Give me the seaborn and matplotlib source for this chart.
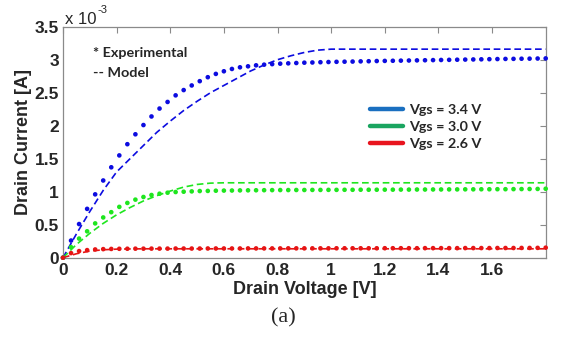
import matplotlib
matplotlib.use("Agg")
import matplotlib.pyplot as plt
from matplotlib.lines import Line2D
import numpy as np
import pandas as pd
import seaborn as sns

# ---------------- data (current in units of 1e-3 A) ----------------
v_exp = [0.00, 0.03, 0.06, 0.09, 0.12, 0.15, 0.18, 0.21, 0.24, 0.27,
         0.30, 0.33, 0.36, 0.39, 0.42, 0.45, 0.48, 0.51, 0.54, 0.57,
         0.60, 0.63, 0.66, 0.69, 0.72, 0.75, 0.78, 0.81, 0.84, 0.87,
         0.90, 0.93, 0.96, 0.99, 1.02, 1.05, 1.08, 1.11, 1.14, 1.17,
         1.20, 1.23, 1.26, 1.29, 1.32, 1.35, 1.38, 1.41, 1.44, 1.47,
         1.50, 1.53, 1.56, 1.59, 1.62, 1.65, 1.68, 1.71, 1.74, 1.77, 1.80]

exp_34 = [0.00, 0.26, 0.51, 0.74, 0.96, 1.17, 1.37, 1.55, 1.72, 1.87,
          2.01, 2.14, 2.26, 2.36, 2.46, 2.54, 2.61, 2.675, 2.735, 2.785,
          2.825, 2.86, 2.885, 2.90, 2.915, 2.925, 2.933, 2.94, 2.945, 2.95,
          2.955, 2.958, 2.962, 2.965, 2.968, 2.970, 2.972, 2.975, 2.977, 2.980,
          2.982, 2.984, 2.986, 2.988, 2.990, 2.992, 2.994, 2.996, 2.998, 3.000,
          3.002, 3.004, 3.006, 3.008, 3.010, 3.012, 3.013, 3.015, 3.016, 3.018, 3.020]

exp_30 = [0.00, 0.16, 0.29, 0.40, 0.52, 0.61, 0.69, 0.77, 0.83, 0.88,
          0.92, 0.95, 0.97, 0.985, 0.995, 1.00, 1.005, 1.01, 1.012, 1.015,
          1.017, 1.018, 1.02, 1.021, 1.022, 1.023, 1.024, 1.025, 1.025, 1.026,
          1.026, 1.027, 1.027, 1.028, 1.028, 1.029, 1.029, 1.030, 1.030, 1.030,
          1.031, 1.031, 1.032, 1.032, 1.033, 1.033, 1.034, 1.034, 1.035, 1.035,
          1.036, 1.036, 1.037, 1.037, 1.038, 1.038, 1.039, 1.040, 1.041, 1.042, 1.045]

exp_26 = [0.00, 0.07, 0.10, 0.115, 0.125, 0.13, 0.133, 0.135, 0.136, 0.137,
          0.137, 0.138, 0.138, 0.138, 0.139, 0.139, 0.139, 0.139, 0.140, 0.140,
          0.140, 0.140, 0.140, 0.141, 0.141, 0.141, 0.141, 0.141, 0.142, 0.142,
          0.142, 0.142, 0.142, 0.142, 0.143, 0.143, 0.143, 0.143, 0.143, 0.143,
          0.144, 0.144, 0.144, 0.144, 0.144, 0.145, 0.145, 0.145, 0.145, 0.145,
          0.146, 0.146, 0.146, 0.146, 0.147, 0.147, 0.147, 0.148, 0.148, 0.149, 0.152]

v_mod = [0.00, 0.05, 0.10, 0.15, 0.20, 0.25, 0.30, 0.35, 0.40, 0.45,
         0.50, 0.55, 0.60, 0.65, 0.70, 0.75, 0.80, 0.85, 0.90, 0.95,
         1.00, 1.80]
mod_34 = [0.00, 0.36, 0.70, 1.02, 1.30, 1.50, 1.70, 1.90, 2.07, 2.23,
          2.37, 2.50, 2.61, 2.72, 2.83, 2.92, 3.00, 3.06, 3.11, 3.145,
          3.16, 3.16]
mod_30 = [0.00, 0.20, 0.37, 0.52, 0.65, 0.76, 0.86, 0.94, 1.01, 1.07,
          1.11, 1.13, 1.135, 1.135, 1.135, 1.135, 1.135, 1.135, 1.135, 1.135,
          1.135, 1.135]
mod_26 = [0.00, 0.06, 0.10, 0.12, 0.13, 0.133, 0.135, 0.135, 0.135, 0.135,
          0.135, 0.135, 0.135, 0.135, 0.135, 0.135, 0.135, 0.135, 0.135, 0.135,
          0.135, 0.135]

series = ["Vgs = 3.4 V", "Vgs = 3.0 V", "Vgs = 2.6 V"]
x_ticks = [0, 0.2, 0.4, 0.6, 0.8, 1.0, 1.2, 1.4, 1.6]
x_ticklabels = ["0", "0.2", "0.4", "0.6", "0.8", "1", "1.2", "1.4", "1.6"]
y_ticks = [0, 0.5, 1.0, 1.5, 2.0, 2.5, 3.0, 3.5]
y_ticklabels = ["0", "0.5", "1", "1.5", "2", "2.5", "3", "3.5"]

# ---------------- styles ----------------
data_colors = {"Vgs = 3.4 V": "#0c0ce0", "Vgs = 3.0 V": "#1ee61e", "Vgs = 2.6 V": "#e61414"}
legend_colors = ["#1a6fc0", "#1aa560", "#e8141e"]

exp_df = pd.concat([
    pd.DataFrame({"V": v_exp, "I": exp_34, "Vgs": series[0]}),
    pd.DataFrame({"V": v_exp, "I": exp_30, "Vgs": series[1]}),
    pd.DataFrame({"V": v_exp, "I": exp_26, "Vgs": series[2]}),
], ignore_index=True)
mod_df = pd.concat([
    pd.DataFrame({"V": v_mod, "I": mod_34, "Vgs": series[0]}),
    pd.DataFrame({"V": v_mod, "I": mod_30, "Vgs": series[1]}),
    pd.DataFrame({"V": v_mod, "I": mod_26, "Vgs": series[2]}),
], ignore_index=True)

sns.set_theme(style="white")
plt.rcParams["font.family"] = ["Liberation Sans", "DejaVu Sans"]

fig = plt.figure(figsize=(5.66, 3.39), dpi=100)
ax = fig.add_axes([0.1113, 0.2398, 0.8528, 0.6814])

for name in series:
    sub = mod_df[mod_df["Vgs"] == name]
    sns.lineplot(data=sub, x="V", y="I", ax=ax, color=data_colors[name],
                 linewidth=1.2, linestyle="--", legend=False, zorder=2)
for line in ax.get_lines():
    line.set_dashes((4, 2.2))

sns.scatterplot(data=exp_df, x="V", y="I", hue="Vgs", palette=data_colors,
                s=11, linewidth=0, legend=False, ax=ax, zorder=3, clip_on=False)

ax.set_xlim(0, 1.8)
ax.set_ylim(0, 3.5)
ax.set_xticks(x_ticks)
ax.set_xticklabels(x_ticklabels)
ax.set_yticks(y_ticks)
ax.set_yticklabels(y_ticklabels)
ax.tick_params(direction="in", length=4, width=0.8, color="#8a8a8a",
               top=True, right=True, labelsize=12.5, pad=4)
ax.tick_params(axis="y", pad=3)
for lab in ax.get_xticklabels() + ax.get_yticklabels():
    lab.set_fontweight("bold")
for sp in ax.spines.values():
    sp.set_color("#8a8a8a")
    sp.set_linewidth(0.9)

ax.set_xlabel("Drain Voltage [V]", fontsize=13, fontweight="bold", labelpad=2)
ax.set_ylabel("Drain Current [A]", fontsize=13, fontweight="bold", labelpad=2)

ax.text(0.112, 3.10, "* Experimental", fontsize=10.4, fontweight="bold",
        family=["Lato", "DejaVu Sans"], va="center", ha="left")
ax.text(0.112, 2.80, "-- Model", fontsize=10.4, fontweight="bold",
        family=["Lato", "DejaVu Sans"], va="center", ha="left")

handles = [Line2D([0], [0], color=c, lw=3.2) for c in legend_colors]
leg = ax.legend(handles, series, loc="center left", bbox_to_anchor=(0.6537, 0.626),
                bbox_transform=fig.transFigure, frameon=False, borderpad=0,
                borderaxespad=0, handlelength=2.3, handletextpad=0.4,
                labelspacing=0.35,
                prop={"family": ["Lato", "DejaVu Sans"], "weight": "bold", "size": 10.3})

fig.text(65 / 566, 1 - 24 / 339, "x 10", fontsize=12, ha="left", va="baseline")
fig.text(98 / 566, 1 - 13 / 339, "-3", fontsize=8, ha="left", va="baseline")

fig.text(283 / 566, 1 - 318 / 339, "(a)", fontsize=16,
         family=["Liberation Serif", "DejaVu Serif"], ha="center", va="center")

fig.savefig("out.png", dpi=100, facecolor="white")
